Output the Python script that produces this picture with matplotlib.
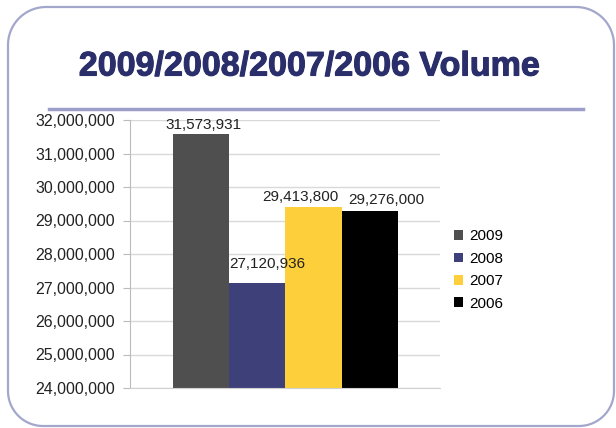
import numpy as np
import matplotlib.pyplot as plt
import matplotlib.patheffects as pe
from matplotlib.patches import PathPatch
from matplotlib.path import Path
from matplotlib.ticker import FuncFormatter, MultipleLocator

years = ['2009', '2008', '2007', '2006']
volumes = [31573931, 27120936, 29413800, 29276000]
bar_colors = ['#4f4f4f', '#3e4079', '#fdd03b', '#000000']
# nudges of the value labels (pixels), as placed in the original slide
label_dx = [2, 10, -13, 16]
label_dy = [2, 12, 3, 4]

plt.rcParams['font.family'] = ['Liberation Sans', 'DejaVu Sans']

fig = plt.figure(figsize=(6.16, 4.28), dpi=100)

# slide frame drawn in pixel coordinates
bg = fig.add_axes([0, 0, 1, 1])
bg.set_xlim(0, 616)
bg.set_ylim(428, 0)
bg.axis('off')


def corner(cx, cy, r, a0, a1):
    t = np.radians(np.linspace(a0, a1, 20))
    return list(zip(cx + r * np.cos(t), cy - r * np.sin(t)))


x0, x1, y0, y1 = 8, 614, 7, 426
rt, rb = 38, 35
pts = (corner(x0 + rt, y0 + rt, rt, 180, 90) + corner(x1 - rt, y0 + rt, rt, 90, 0)
       + corner(x1 - rb, y1 - rb, rb, 0, -90) + corner(x0 + rb, y1 - rb, rb, -90, -180))
pts.append(pts[0])
bg.add_patch(PathPatch(Path(pts), fill=False, edgecolor='#a3a7cc', linewidth=1.6))
bg.plot([49, 583], [109, 109], color='#9b9fc9', linewidth=2.5)
bg.text(309, 67, '2009/2008/2007/2006 Volume', ha='center', va='center',
        fontsize=24.5, fontweight='bold', color='#2a2e6a',
        path_effects=[pe.withStroke(linewidth=0.8, foreground='#2a2e6a')])

ax = fig.add_axes([130 / 616, 1 - 388 / 428, 310 / 616, 268 / 428])
for i, (yr, v, c) in enumerate(zip(years, volumes, bar_colors)):
    ax.bar(i, v, width=1.0, color=c, label=yr, zorder=2)
    ax.annotate(f'{v:,}', (i, v), xytext=(label_dx[i] * 0.72, label_dy[i] * 0.72),
                textcoords='offset points', ha='center', va='bottom',
                fontsize=11, color='#222222')

ax.set_ylim(24000000, 32000000)
ax.set_xlim(-1.264, 4.247)
ax.yaxis.set_major_locator(MultipleLocator(1000000))
ax.yaxis.set_major_formatter(FuncFormatter(lambda v, p: f'{int(v):,}'))
ax.grid(axis='y', color='#d9d9d9', linewidth=1, zorder=0)
ax.set_xticks([])
ax.tick_params(axis='y', labelsize=11.5, length=5, color='#bbbbbb', labelcolor='#222222', pad=6)
for s in ['top', 'right']:
    ax.spines[s].set_visible(False)
ax.spines['left'].set_color('#bbbbbb')
ax.spines['bottom'].set_color('#d0d0d0')

ax.legend(loc='center left', bbox_to_anchor=(440 / 616, 1 - 270 / 428),
          bbox_transform=fig.transFigure, frameon=False, fontsize=11,
          handlelength=0.6, handleheight=0.6, handletextpad=0.4, labelspacing=0.55)

fig.savefig('out.png', dpi=100)
